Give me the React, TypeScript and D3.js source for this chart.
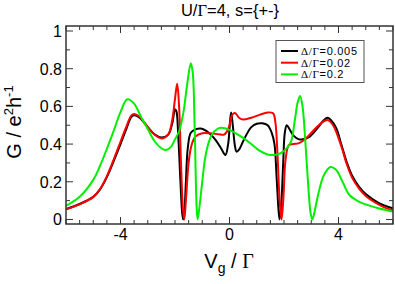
import React from 'react'
import * as d3 from 'd3'

// Δ/Γ = 0.005 (black)
const xBlack = [-6, -5.5, -5, -4.75, -4.5, -4.25, -4, -3.8, -3.6, -3.5, -3.3, -3, -2.75, -2.5, -2.25, -2.1, -2.0, -1.95, -1.88, -1.8, -1.74, -1.7, -1.66, -1.6, -1.53, -1.42, -1.25, -1.05, -0.85, -0.65, -0.5, -0.3, -0.15, -0.05, 0.02, 0.06, 0.12, 0.2, 0.26, 0.35, 0.55, 0.8, 1.0, 1.2, 1.4, 1.55, 1.65, 1.73, 1.8, 1.84, 1.9, 1.97, 2.03, 2.1, 2.2, 2.35, 2.55, 2.9, 3.2, 3.45, 3.6, 3.9, 4.1, 4.3, 4.5, 4.75, 5.0, 5.5, 6.0]
const gBlack = [0.055, 0.082, 0.12, 0.16, 0.225, 0.31, 0.4, 0.475, 0.545, 0.553, 0.54, 0.49, 0.452, 0.435, 0.45, 0.51, 0.585, 0.575, 0.44, 0.2, 0.04, 0.0, 0.03, 0.2, 0.38, 0.46, 0.478, 0.483, 0.47, 0.445, 0.42, 0.375, 0.342, 0.4, 0.52, 0.568, 0.5, 0.39, 0.36, 0.37, 0.43, 0.49, 0.508, 0.51, 0.5, 0.46, 0.4, 0.22, 0.05, 0.0, 0.08, 0.3, 0.46, 0.5, 0.48, 0.445, 0.425, 0.435, 0.48, 0.525, 0.54, 0.49, 0.4, 0.305, 0.232, 0.175, 0.135, 0.086, 0.06]

// Δ/Γ = 0.02 (red)
const xRed = [-6, -5.5, -5, -4.75, -4.5, -4.25, -4, -3.8, -3.6, -3.5, -3.3, -3, -2.75, -2.5, -2.25, -2.1, -2.0, -1.92, -1.85, -1.78, -1.71, -1.66, -1.6, -1.5, -1.4, -1.25, -1.0, -0.7, -0.4, -0.2, -0.1, 0.0, 0.1, 0.2, 0.35, 0.5, 0.8, 1.1, 1.4, 1.6, 1.68, 1.76, 1.84, 1.91, 1.98, 2.06, 2.18, 2.35, 2.55, 2.8, 3.1, 3.4, 3.6, 3.8, 4.1, 4.3, 4.5, 4.75, 5.0, 5.5, 6.0]
const gRed = [0.054, 0.08, 0.12, 0.162, 0.23, 0.318, 0.412, 0.487, 0.552, 0.56, 0.545, 0.49, 0.45, 0.43, 0.45, 0.53, 0.64, 0.72, 0.6, 0.3, 0.06, 0.0, 0.1, 0.3, 0.39, 0.44, 0.458, 0.457, 0.452, 0.45, 0.465, 0.5, 0.555, 0.565, 0.54, 0.53, 0.54, 0.555, 0.568, 0.563, 0.52, 0.35, 0.1, 0.0, 0.12, 0.32, 0.395, 0.4, 0.405, 0.43, 0.475, 0.515, 0.528, 0.5, 0.39, 0.295, 0.222, 0.165, 0.125, 0.078, 0.047]

// Δ/Γ = 0.2 (green)
const xGreen = [-6, -5.5, -5, -4.75, -4.5, -4.25, -4, -3.75, -3.5, -3.25, -3, -2.75, -2.5, -2.33, -2.15, -2.0, -1.85, -1.7, -1.55, -1.42, -1.35, -1.28, -1.21, -1.17, -1.1, -1.0, -0.9, -0.8, -0.65, -0.45, -0.27, 0.0, 0.25, 0.53, 0.8, 1.1, 1.4, 1.63, 1.85, 2.05, 2.25, 2.4, 2.5, 2.59, 2.68, 2.78, 2.88, 2.98, 3.04, 3.12, 3.25, 3.45, 3.7, 3.9, 4.1, 4.4, 4.75, 5.0, 5.5, 6.0]
const gGreen = [0.072, 0.12, 0.21, 0.285, 0.375, 0.47, 0.57, 0.638, 0.615, 0.545, 0.48, 0.415, 0.378, 0.369, 0.385, 0.425, 0.468, 0.56, 0.72, 0.829, 0.78, 0.5, 0.08, 0.0, 0.07, 0.2, 0.32, 0.39, 0.45, 0.48, 0.487, 0.475, 0.455, 0.43, 0.4, 0.365, 0.345, 0.342, 0.35, 0.37, 0.41, 0.53, 0.62, 0.655, 0.6, 0.42, 0.2, 0.03, 0.0, 0.04, 0.13, 0.23, 0.278, 0.265, 0.215, 0.13, 0.095, 0.08, 0.058, 0.042]

const seriesNames = ['0.005', '0.02', '0.2']
const seriesColors = ['#000000', '#ff0000', '#00ee00']

const xMajor = [-4, 0, 4]
const yMajor = [0, 0.2, 0.4, 0.6, 0.8, 1]

const W = 395
const H = 284
const L = 66, R = 393, T = 26, B = 224

const App = () => {
  const x = d3.scaleLinear().domain([-6, 6]).range([L, R])
  const y = d3.scaleLinear().domain([-0.024, 1.0265]).range([B, T])

  const line = d3.line<[number, number]>()
    .x(d => x(d[0]))
    .y(d => y(d[1]))
    .curve(d3.curveCatmullRom.alpha(0.5))

  const series = [
    xBlack.map((v, i) => [v, gBlack[i]] as [number, number]),
    xRed.map((v, i) => [v, gRed[i]] as [number, number]),
    xGreen.map((v, i) => [v, gGreen[i]] as [number, number]),
  ]

  const xTicks = d3.range(-6, 6.01, 0.5)
  const yTicks = d3.range(0, 1.01, 0.1)
  const isMajorX = (v: number) => xMajor.some(m => Math.abs(m - v) < 1e-6)
  const isMajorY = (v: number) => yMajor.some(m => Math.abs(m - v) < 1e-6)

  const axisColor = '#333'
  const sans = 'Liberation Sans, Arial, sans-serif'
  const serif = 'Liberation Serif, Times New Roman, serif'

  return (
    <svg width={W} height={H} style={{ position: 'absolute', left: 0, top: 0, background: '#fff' }}>
      <defs>
        <clipPath id="plot-clip">
          <rect x={L} y={T} width={R - L} height={B - T} />
        </clipPath>
      </defs>

      {/* title */}
      <text x={230} y={16} textAnchor="middle" fontFamily={sans} fontSize={16.5} fill="#000">
        U/<tspan fontFamily={serif}>Γ</tspan>=4, s={'{+-}'}
      </text>

      {/* curves */}
      <g clipPath="url(#plot-clip)">
        {series.map((d, i) => (
          <path key={i} d={line(d) || ''} fill="none" stroke={seriesColors[i]} strokeWidth={2} />
        ))}
      </g>

      {/* ticks */}
      {xTicks.map(v => {
        const len = isMajorX(v) ? 7 : 4
        return (
          <g key={'xt' + v} stroke={axisColor} strokeWidth={1}>
            <line x1={x(v)} x2={x(v)} y1={B} y2={B - len} />
            <line x1={x(v)} x2={x(v)} y1={T} y2={T + len} />
          </g>
        )
      })}
      {yTicks.map(v => {
        const len = isMajorY(v) ? 7 : 4
        return (
          <g key={'yt' + v} stroke={axisColor} strokeWidth={1}>
            <line x1={L} x2={L + len} y1={y(v)} y2={y(v)} />
            <line x1={R} x2={R - len} y1={y(v)} y2={y(v)} />
          </g>
        )
      })}

      {/* frame */}
      <rect x={L} y={T} width={R - L} height={B - T} fill="none" stroke={axisColor} strokeWidth={1.5} />

      {/* tick labels */}
      {xMajor.map(v => (
        <text key={'xl' + v} x={x(v)} y={240} textAnchor="middle" fontFamily={sans} fontSize={16} fill="#000">
          {v}
        </text>
      ))}
      {yMajor.map(v => (
        <text key={'yl' + v} x={62} y={y(v) + 6} textAnchor="end" fontFamily={sans} fontSize={16} fill="#000">
          {v === 0 || v === 1 ? String(v) : v.toFixed(1)}
        </text>
      ))}

      {/* axis labels */}
      <text x={229} y={268} textAnchor="middle" fontFamily={sans} fontSize={20} fill="#000">
        V<tspan fontSize={14} dy={5}>g</tspan><tspan dy={-5}> / </tspan><tspan fontFamily={serif}>Γ</tspan>
      </text>
      <text transform={`translate(21, ${(T + B) / 2 - 3}) rotate(-90)`} textAnchor="middle" fontFamily={sans} fontSize={20} fill="#000">
        G / e<tspan fontSize={13} dy={-8}>2</tspan><tspan dy={8}>h</tspan><tspan fontSize={13} dy={-8}>-1</tspan>
      </text>

      {/* legend */}
      <g>
        <rect x={276} y={40.5} width={88} height={42} fill="#fff" stroke="#555" strokeWidth={1} />
        {seriesNames.map((n, i) => {
          const ly = 51 + i * 11.7
          return (
            <g key={n}>
              <line x1={281} x2={298} y1={ly} y2={ly} stroke={seriesColors[i]} strokeWidth={2} />
              <text x={301} y={ly + 4} fontFamily={sans} fontSize={11} letterSpacing={0.7} fill="#000">
                <tspan fontFamily={serif}>Δ/Γ</tspan>={n}
              </text>
            </g>
          )
        })}
      </g>
    </svg>
  )
}

export default App
